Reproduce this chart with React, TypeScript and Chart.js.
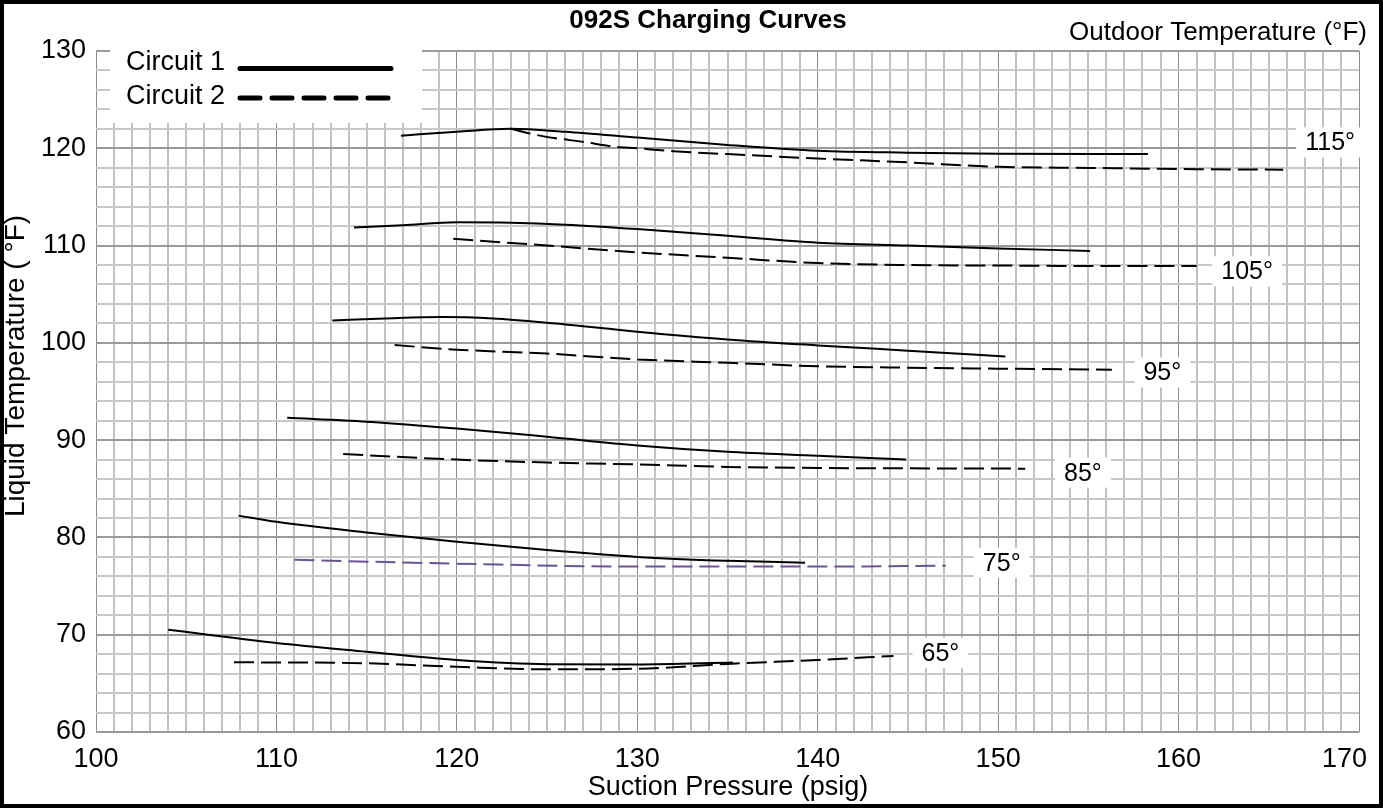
import React, { useEffect, useRef } from 'react';
import { Chart, registerables } from 'chart.js';

Chart.register(...registerables);

const FONT = '"Liberation Sans", Arial, Helvetica, sans-serif';

// Axis ranges / ticks
const xMin = 100;
const xMax = 170;
const yMin = 60;
const yMax = 130;

// 115°F outdoor
const c1P115 = [116.9, 120, 123, 126, 130, 135, 140, 145, 150, 158.3];
const c1T115 = [121.3, 121.7, 122.0, 121.7, 121.1, 120.35, 119.75, 119.55, 119.45, 119.4];
const c2P115 = [123, 124.6, 127.2, 128.6, 130, 132, 135, 140, 145, 150, 155, 161, 165.8];
const c2T115 = [122.0, 121.3, 120.6, 120.2, 120.0, 119.7, 119.4, 118.95, 118.55, 118.1, 117.98, 117.85, 117.8];

// 105°F outdoor
const c1P105 = [114.3, 117, 120, 123, 126, 130, 135, 140, 145, 150, 155.1];
const c1T105 = [111.85, 112.1, 112.4, 112.35, 112.15, 111.7, 111.0, 110.3, 110.0, 109.7, 109.45];
const c2P105 = [119.8, 125, 130, 135, 140, 145, 150, 155, 161.0];
const c2T105 = [110.7, 110.0, 109.3, 108.75, 108.2, 108.0, 107.95, 107.9, 107.9];

// 95°F outdoor
const c1P95 = [113.1, 116, 119.2, 122, 125, 130, 135, 140, 145, 150.4];
const c1T95 = [102.3, 102.5, 102.65, 102.5, 102.07, 101.15, 100.35, 99.74, 99.2, 98.6];
const c2P95 = [116.55, 120, 125, 130, 135, 140, 145, 150, 156.3];
const c2T95 = [99.77, 99.3, 98.9, 98.3, 97.95, 97.6, 97.45, 97.35, 97.24];

// 85°F outdoor
const c1P85 = [110.6, 115, 120, 125, 130, 135, 140, 144.9];
const c1T85 = [92.3, 91.9, 91.2, 90.35, 89.45, 88.8, 88.4, 88.0];
const c2P85 = [113.7, 120, 125, 130, 135, 140, 145, 151.5];
const c2T85 = [88.57, 88.0, 87.7, 87.5, 87.25, 87.14, 87.1, 87.07];

// 75°F outdoor
const c1P75 = [107.9, 110, 115, 120, 125, 130, 135, 139.3];
const c1T75 = [82.24, 81.6, 80.5, 79.55, 78.7, 78.0, 77.6, 77.4];
const c2P75 = [111, 120, 130, 140, 147.1];
const c2T75 = [77.7, 77.3, 77.0, 77.0, 77.09];

// 65°F outdoor
const c1P65 = [104, 110, 115, 120, 125, 130, 135.3];
const c1T65 = [70.5, 69.15, 68.25, 67.4, 66.97, 66.95, 67.15];
const c2P65 = [107.65, 115, 120, 125, 130, 135, 140, 144.2];
const c2T65 = [67.17, 67.06, 66.7, 66.44, 66.5, 67.0, 67.4, 67.82];

// Outdoor temperature labels and their anchor values (pressure, liquid temp)
const tempLabels = ['115°', '105°', '95°', '85°', '75°', '65°'];
const tempLabelP = [168.4, 163.8, 159.1, 154.7, 150.2, 146.8];
const tempLabelT = [120.6, 107.35, 96.96, 86.66, 77.4, 68.13];

const legendNames = ['Circuit 1', 'Circuit 2'];

const curves = [
  { p: c1P115, t: c1T115, c: 1, color: '#000000' },
  { p: c2P115, t: c2T115, c: 2, color: '#000000' },
  { p: c1P105, t: c1T105, c: 1, color: '#000000' },
  { p: c2P105, t: c2T105, c: 2, color: '#000000' },
  { p: c1P95, t: c1T95, c: 1, color: '#000000' },
  { p: c2P95, t: c2T95, c: 2, color: '#000000' },
  { p: c1P85, t: c1T85, c: 1, color: '#000000' },
  { p: c2P85, t: c2T85, c: 2, color: '#000000' },
  { p: c1P75, t: c1T75, c: 1, color: '#000000' },
  { p: c2P75, t: c2T75, c: 2, color: '#6b5494' },
  { p: c1P65, t: c1T65, c: 1, color: '#000000' },
  { p: c2P65, t: c2T65, c: 2, color: '#000000' },
];

function drawText(
  ctx: CanvasRenderingContext2D,
  text: string,
  x: number,
  y: number,
  size: number,
  weight: string,
  align: CanvasTextAlign,
  rotate?: number
) {
  ctx.save();
  ctx.font = `${weight} ${size}px ${FONT}`;
  ctx.textBaseline = 'middle';
  ctx.textAlign = align;
  ctx.fillStyle = '#000';
  ctx.translate(x, y);
  if (rotate) ctx.rotate(rotate);
  ctx.fillText(text, 0, 0);
  ctx.restore();
}

const decorPlugin = {
  id: 'decor',
  afterDraw(chart: any) {
    const ctx: CanvasRenderingContext2D = chart.ctx;
    const xs = chart.scales.x;
    const ys = chart.scales.y;

    // last x tick label, pulled inside the frame as in the original
    drawText(ctx, String(xMax), xs.getPixelForValue(xMax) + 8, chart.chartArea.bottom + 11 + 16.2, 27, 'normal', 'right');

    // legend white box
    ctx.save();
    ctx.fillStyle = '#ffffff';
    ctx.fillRect(110, 42, 312, 81);
    ctx.restore();

    drawText(ctx, legendNames[0], 126, 63, 27, 'normal', 'left');
    drawText(ctx, legendNames[1], 126, 97, 27, 'normal', 'left');

    ctx.save();
    ctx.strokeStyle = '#000';
    ctx.lineWidth = 5;
    ctx.lineCap = 'round';
    ctx.beginPath();
    ctx.moveTo(240, 68.5);
    ctx.lineTo(391, 68.5);
    ctx.stroke();
    ctx.setLineDash([20, 12]);
    ctx.beginPath();
    ctx.moveTo(240, 98);
    ctx.lineTo(391, 98);
    ctx.stroke();
    ctx.restore();

    // temperature labels with white background
    ctx.save();
    ctx.font = `normal 25px ${FONT}`;
    for (let i = 0; i < tempLabels.length; i++) {
      const px = xs.getPixelForValue(tempLabelP[i]);
      const py = ys.getPixelForValue(tempLabelT[i]);
      const w = ctx.measureText(tempLabels[i]).width;
      ctx.fillStyle = '#ffffff';
      ctx.fillRect(px - w / 2 - 9, py - 15, w + 18, 30);
    }
    ctx.restore();
    for (let i = 0; i < tempLabels.length; i++) {
      const px = xs.getPixelForValue(tempLabelP[i]);
      const py = ys.getPixelForValue(tempLabelT[i]);
      drawText(ctx, tempLabels[i], px, py + 1, 25, 'normal', 'center');
    }

    // titles
    drawText(ctx, '092S Charging Curves', 708, 21, 26, 'bold', 'center');
    drawText(ctx, 'Outdoor Temperature (°F)', 1367, 33, 26, 'normal', 'right');
    drawText(ctx, 'Suction Pressure (psig)', 728, 788, 27, 'normal', 'center');
    drawText(ctx, 'Liquid Temperature ( °F)', 16, 366, 28, 'normal', 'center', -Math.PI / 2);

    // frame
    ctx.save();
    ctx.strokeStyle = '#000';
    ctx.lineWidth = 4;
    ctx.strokeRect(2, 2, 1379, 804);
    ctx.restore();
  },
};

export default function App() {
  const ref = useRef<HTMLCanvasElement | null>(null);

  useEffect(() => {
    if (!ref.current) return;
    const datasets = curves.map((cv) => ({
      data: cv.p.map((p, i) => ({ x: p, y: cv.t[i] })),
      borderColor: cv.color,
      borderWidth: 2,
      borderDash: cv.c === 2 ? [20, 7] : [],
      pointRadius: 0,
      showLine: true,
      fill: false,
      cubicInterpolationMode: 'monotone' as const,
    }));

    const chart = new Chart(ref.current, {
      type: 'scatter',
      data: { datasets },
      plugins: [decorPlugin],
      options: {
        animation: false,
        responsive: false,
        devicePixelRatio: 1,
        layout: { padding: { left: 0, top: 51, right: 24, bottom: 0 } },
        plugins: {
          legend: { display: false },
          tooltip: { enabled: false },
          title: { display: false },
        },
        scales: {
          x: {
            type: 'linear',
            min: xMin,
            max: xMax,
            afterFit: (s: any) => {
              s.height = 76;
              s.paddingLeft = 0;
              s.paddingRight = 0;
            },
            border: { display: false },
            grid: {
              drawTicks: false,
              color: (c: any) => (Math.round(c.tick.value) % 10 === 0 ? '#8c8c8c' : '#c2c2c2'),
              lineWidth: (c: any) => (Math.round(c.tick.value) % 10 === 0 ? 1 : 2),
            },
            ticks: {
              stepSize: 1,
              autoSkip: false,
              maxTicksLimit: 200,
              maxRotation: 0,
              padding: 11,
              color: '#000',
              font: { family: FONT, size: 27 },
              callback: (v: any) => {
                const n = Math.round(Number(v));
                return n % 10 === 0 && n !== xMax ? String(n) : '';
              },
            },
          },
          y: {
            type: 'linear',
            min: yMin,
            max: yMax,
            afterFit: (s: any) => {
              s.width = 96;
              s.paddingTop = 0;
              s.paddingBottom = 0;
            },
            border: { display: false },
            grid: {
              drawTicks: false,
              color: (c: any) => (Math.round(c.tick.value) % 10 === 0 ? '#9a9a9a' : '#c8c8c8'),
              lineWidth: 2,
            },
            ticks: {
              stepSize: 2,
              autoSkip: false,
              maxTicksLimit: 200,
              padding: 10,
              color: '#000',
              font: { family: FONT, size: 27 },
              callback: (v: any) => (Math.round(Number(v)) % 10 === 0 ? String(Math.round(Number(v))) : ''),
            },
          },
        },
      },
    } as any);
    return () => chart.destroy();
  }, []);

  return (
    <div style={{ position: 'fixed', left: 0, top: 0, width: 1383, height: 808, background: '#fff' }}>
      <canvas ref={ref} width={1383} height={808} style={{ display: 'block', width: 1383, height: 808 }} />
    </div>
  );
}
